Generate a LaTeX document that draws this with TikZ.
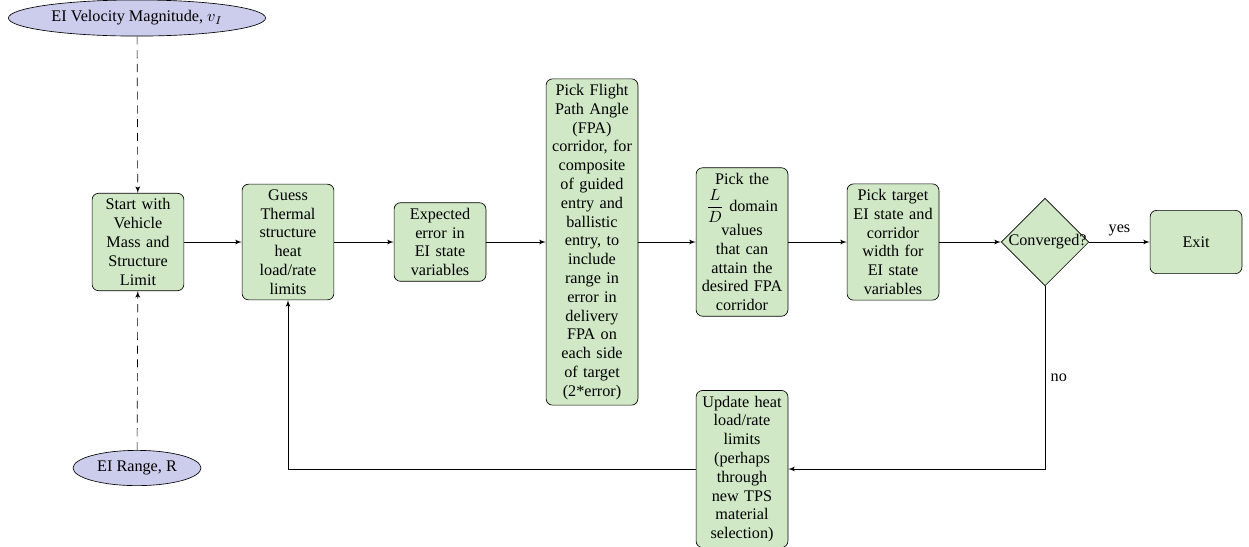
\documentclass[tikz,border=0pt]{standalone}
\usepackage{fontspec}
\setmainfont{Liberation Serif}
\usetikzlibrary{shapes.geometric,arrows}
\definecolor{blockgreen}{RGB}{208,232,198}
\definecolor{cloudblue}{RGB}{204,204,236}
\tikzset{
  every node/.style={font=\fontsize{10}{11.6}\selectfont},
  block/.style={rectangle, draw, fill=blockgreen, text width=5em, align=center, rounded corners, minimum height=39pt},
  decision/.style={diamond, draw, fill=blockgreen, text width=4.5em, text badly centered, inner sep=0pt},
  cloud/.style={draw, ellipse, fill=cloudblue},
  line/.style={draw, -latex'},
  dashline/.style={line, dash pattern=on 5pt off 3.5pt},
}
\begin{document}
\begin{tikzpicture}[x=0.617pt,y=-0.617pt]
\useasboundingbox (0,0) rectangle (1249,546);
%
\node[cloud] (velocity) at (137,18) {EI Velocity Magnitude, $v_I$};
\node[cloud] (range) at (137,468) {EI Range, R};
\node[block] (start) at (138,242) {Start with\\Vehicle\\Mass and\\Structure\\Limit};
\node[block] (guess) at (288,242) {Guess\\Thermal\\structure\\heat\\load/rate\\limits};
\node[block] (expected) at (440,242) {Expected\\error in\\EI state\\variables};
\node[block] (fpa) at (592,242) {Pick Flight\\Path Angle\\(FPA)\\corridor, for\\composite\\of guided\\entry and\\ballistic\\entry, to\\include\\range in\\error in\\delivery\\FPA on\\each side\\of target\\(2*error)};
\node[block] (lod) at (742,242) {Pick the\\[2pt]$\displaystyle\frac{L}{D}$ domain\\values\\that can\\attain the\\desired FPA\\corridor};
\node[block] (target) at (893,242) {Pick target\\EI state and\\corridor\\width for\\EI state\\variables};
\node[decision] (converged) at (1045,242) {Converged?};
\node[block] (exit) at (1196,242) {Exit};
\node[block] (update) at (742,469) {Update heat\\load/rate\\limits\\(perhaps\\through\\new TPS\\material\\selection)};
%
\path[dashline] (velocity) -- (start);
\path[dashline] (range) -- (start);
\path[line] (start) -- (guess);
\path[line] (guess) -- (expected);
\path[line] (expected) -- (fpa);
\path[line] (fpa) -- (lod);
\path[line] (lod) -- (target);
\path[line] (target) -- (converged);
\path[line] (converged) -- node[above]{yes} (exit);
\path[line] (converged) |- node[pos=0.25,right]{no} (update);
\path[line] (update) -| (guess);
\end{tikzpicture}
\end{document}
